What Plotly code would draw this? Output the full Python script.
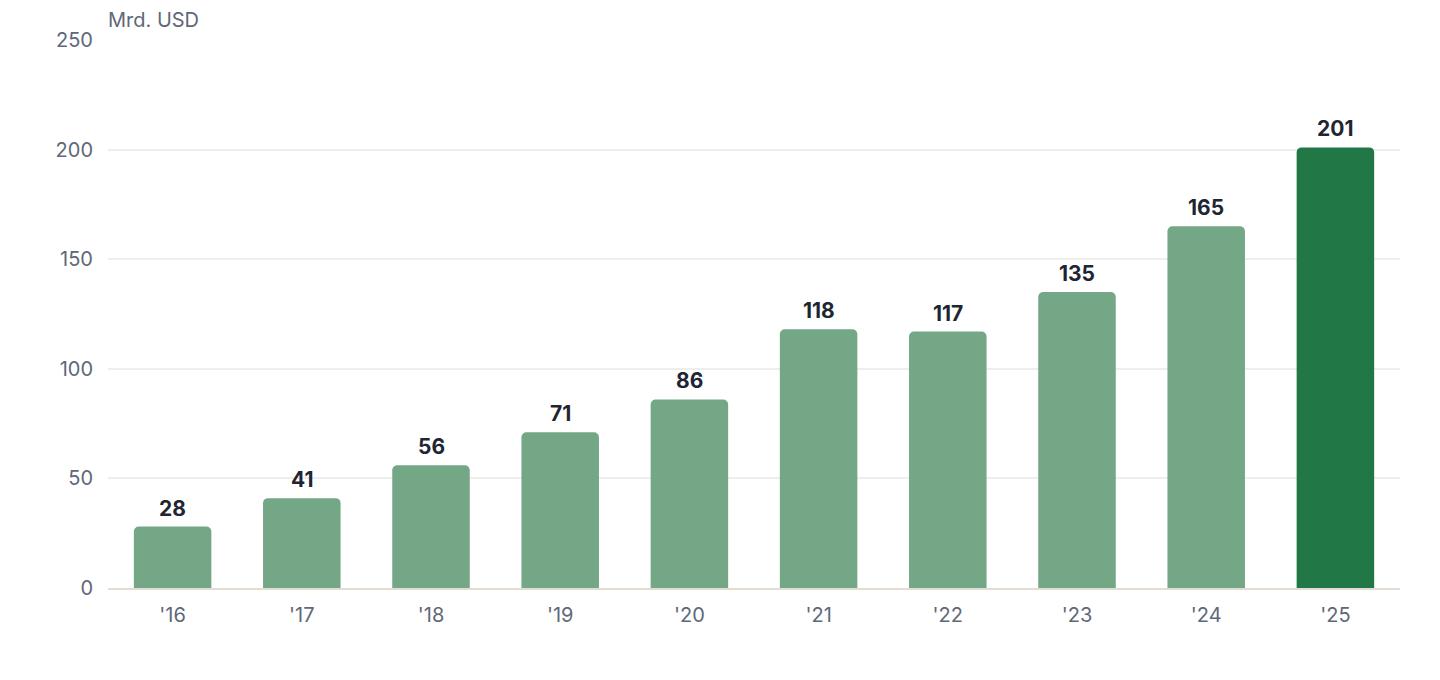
import plotly.graph_objects as go

# Data
YEARS = ["'16", "'17", "'18", "'19", "'20", "'21", "'22", "'23", "'24", "'25"]
VALUES = [28, 41, 56, 71, 86, 118, 117, 135, 165, 201]

LIGHT_GREEN = '#74A786'
DARK_GREEN = '#217846'

colors = [LIGHT_GREEN] * (len(VALUES) - 1) + [DARK_GREEN]

fig = go.Figure(go.Bar(
    x=YEARS, y=VALUES,
    marker=dict(color=colors, line=dict(width=0)),
    hoverinfo='x+y',
))

# value labels above the bars
labels = [dict(
    x=yr, y=v, text=str(v), xref='x', yref='y',
    xanchor='center', yanchor='bottom', yshift=4, showarrow=False,
    font=dict(family='Inter', size=21, color='#1F2633', weight=700),
) for yr, v in zip(YEARS, VALUES)]

# page body has an 8px margin, so the figure is nudged up/left to compensate
fig.update_layout(
    width=1440, height=680,
    margin=dict(l=100, r=48, t=32, b=100),
    plot_bgcolor='white', paper_bgcolor='white',
    bargap=0.4,
    barcornerradius=5,
    showlegend=False,
    font=dict(family='Inter', size=20, color='#5E6878'),
    annotations=labels + [dict(
        text='Mrd. USD', x=0, y=1, xref='paper', yref='paper',
        xanchor='left', yanchor='bottom', yshift=6, xshift=-2, showarrow=False,
        font=dict(family='Inter', size=20, color='#5E6878'),
    )],
)
fig.update_yaxes(
    range=[0, 250], dtick=50, showgrid=True, gridcolor='#EEEEEC', gridwidth=1.5,
    zeroline=False, showline=False, ticks='', ticklabelstandoff=14,
)
fig.update_xaxes(
    showline=True, linecolor='#E2DDD0', linewidth=1.5, ticks='', ticklabelstandoff=8,
)

fig.write_html("out.html")
